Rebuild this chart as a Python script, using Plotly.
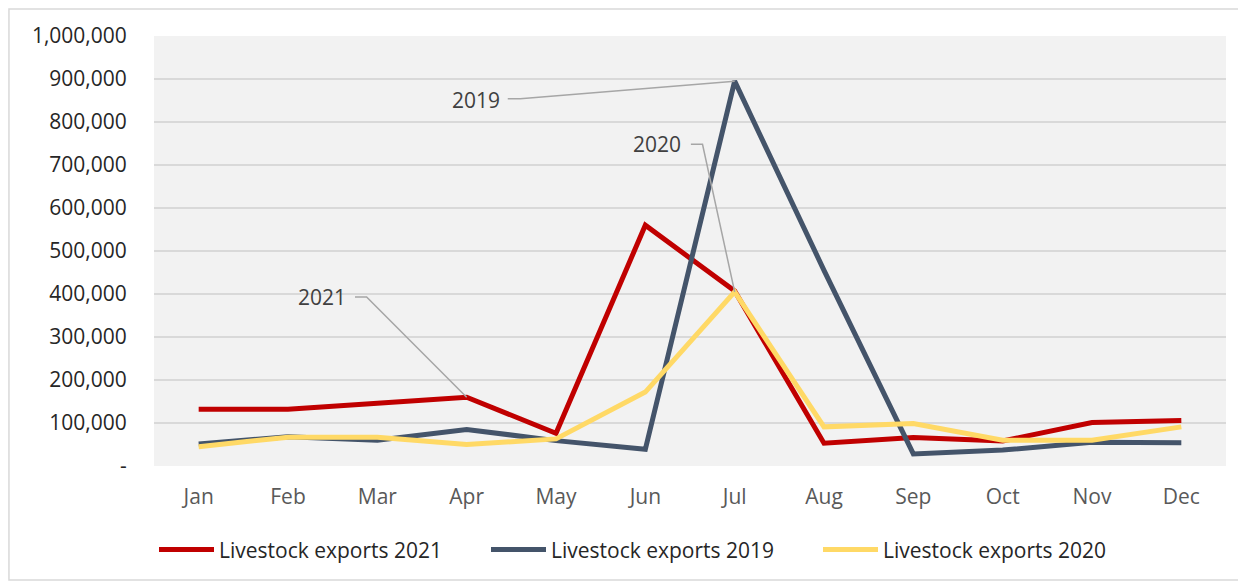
import plotly.graph_objects as go

months = ["Jan", "Feb", "Mar", "Apr", "May", "Jun", "Jul", "Aug", "Sep", "Oct", "Nov", "Dec"]
exports_2021 = [132000, 132000, 146000, 160000, 76000, 560000, 407000, 53000, 66000, 58000, 101000, 106000]
exports_2019 = [51000, 68000, 60000, 85000, 59000, 39000, 895000, 455000, 28000, 37000, 55000, 54000]
exports_2020 = [45000, 67000, 67000, 50000, 63000, 172000, 405000, 91000, 99000, 60000, 60000, 91000]

y_ticks = [0, 100000, 200000, 300000, 400000, 500000, 600000, 700000, 800000, 900000, 1000000]
y_labels = ["-"] + [f"{v:,}" for v in y_ticks[1:]]

FONT = "Open Sans"
FS = 21

fig = go.Figure()

series = [
    ("Livestock exports 2021", exports_2021, "#C00000"),
    ("Livestock exports 2019", exports_2019, "#44546A"),
    ("Livestock exports 2020", exports_2020, "#FFD966"),
]
for name, vals, color in series:
    fig.add_trace(go.Scatter(
        x=list(range(len(months))),
        y=vals,
        mode="lines",
        name=name,
        line=dict(color=color, width=5),
    ))

# callout labels with elbow leader lines: (text, label x, label y, elbow start, elbow end, elbow y, target index, target value)
callouts = [
    ("2019", 3.10, 851000, 3.46, 3.60, 854000, 6, exports_2019[6]),
    ("2020", 5.13, 748000, 5.51, 5.64, 748000, 6, exports_2020[6]),
    ("2021", 1.38, 392000, 1.75, 1.88, 393000, 3, exports_2021[3]),
]
for text, lx, ly, ex0, ex1, ey, tx, ty in callouts:
    fig.add_annotation(x=lx, y=ly, text=text, showarrow=False,
                       font=dict(family=FONT, size=FS, color="#404040"))
    fig.add_shape(type="path", xref="x", yref="y",
                  path=f"M {ex0} {ey} L {ex1} {ey} L {tx} {ty}",
                  line=dict(color="#A6A6A6", width=1.5))

# outer chart border
fig.add_shape(type="rect", xref="paper", yref="paper",
              x0=-0.1353, x1=1.013, y0=-0.265, y1=1.063,
              line=dict(color="#D9D9D9", width=1.5), layer="below")

fig.update_layout(
    width=1238,
    height=578,
    margin=dict(l=146, r=20, t=28, b=120),
    paper_bgcolor="white",
    plot_bgcolor="#F2F2F2",
    font=dict(family=FONT, size=FS, color="#262626"),
    showlegend=True,
    legend=dict(
        orientation="h",
        x=0.0, xanchor="left",
        y=-0.195, yanchor="middle",
        itemwidth=55,
        entrywidth=262,
        entrywidthmode="pixels",
        font=dict(family=FONT, size=FS, color="#262626"),
        traceorder="normal",
    ),
    xaxis=dict(
        range=[-0.5, 11.5],
        tickvals=list(range(len(months))),
        ticktext=months,
        showgrid=False,
        zeroline=False,
        ticks="outside",
        ticklen=12,
        tickcolor="rgba(0,0,0,0)",
        tickfont=dict(color="#595959"),
    ),
    yaxis=dict(
        range=[0, 1000000],
        tickvals=y_ticks,
        ticktext=y_labels,
        showgrid=True,
        gridcolor="#D9D9D9",
        gridwidth=1.5,
        zeroline=False,
        showline=False,
        ticks="outside",
        ticklen=22,
        tickcolor="rgba(0,0,0,0)",
    ),
)

fig.write_html("out.html")
